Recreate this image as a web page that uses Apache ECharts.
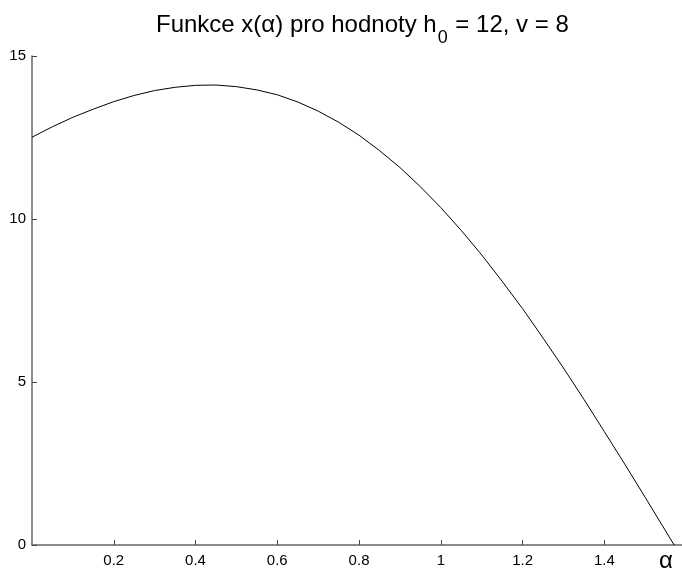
<!DOCTYPE html>
<html>
<head>
<meta charset="utf-8">
<script src="https://cdn.jsdelivr.net/npm/echarts@6/dist/echarts.min.js"></script>
<style>
  html, body { margin: 0; padding: 0; background: #fff; }
  #chart { width: 682px; height: 568px; }
</style>
</head>
<body>
<div id="chart"></div>
<script>
// Launch angle alpha (rad) and horizontal distance x(alpha) for h0 = 12, v = 8
const alpha = [0, 0.05, 0.1, 0.15, 0.2, 0.25, 0.3, 0.35, 0.4, 0.45, 0.5, 0.55, 0.6, 0.65,
  0.7, 0.75, 0.8, 0.85, 0.9, 0.95, 1.0, 1.05, 1.1, 1.15, 1.2, 1.25, 1.3, 1.35, 1.4,
  1.45, 1.5, 1.55, 1.5708];
const xDist = [12.51, 12.83, 13.12, 13.37, 13.60, 13.79, 13.94, 14.04, 14.10, 14.11,
  14.06, 13.96, 13.81, 13.59, 13.31, 12.97, 12.57, 12.10, 11.58, 10.99, 10.35, 9.65,
  8.90, 8.09, 7.25, 6.35, 5.43, 4.47, 3.48, 2.48, 1.46, 0.43, 0];
const yTicks = [0, 5, 10, 15];

const FONT = 'Liberation Sans, Arial, sans-serif';
const chart = echarts.init(document.getElementById('chart'));

chart.setOption({
  animation: false,
  backgroundColor: '#fff',
  title: {
    text: '{a|Funkce x(α) pro hodnoty h}{s|0}{a| = 12, v = 8}',
    left: 151,
    top: 8,
    textStyle: {
      fontWeight: 'normal',
      rich: {
        a: { fontSize: 24, fontWeight: 'normal', fontFamily: FONT, color: '#000', verticalAlign: 'top', lineHeight: 24 },
        s: { fontSize: 18, fontWeight: 'normal', fontFamily: FONT, color: '#000', verticalAlign: 'top', lineHeight: 18, padding: [16, 1, 0, 1] }
      }
    }
  },
  grid: { left: 32, right: 0, top: 56, bottom: 22, containLabel: false },
  xAxis: {
    type: 'value',
    min: 0,
    max: 1.59,
    interval: 0.2,
    splitLine: { show: false },
    axisLine: { lineStyle: { color: '#666', width: 1.5 } },
    axisTick: { inside: true, length: 5, lineStyle: { color: '#444' } },
    axisLabel: {
      showMinLabel: false,
      showMaxLabel: false,
      margin: 8,
      fontSize: 15,
      fontFamily: FONT,
      color: '#000'
    }
  },
  yAxis: {
    type: 'value',
    min: yTicks[0],
    max: yTicks[yTicks.length - 1],
    interval: 5,
    splitLine: { show: false },
    axisLine: { show: true, lineStyle: { color: '#666', width: 1.5 } },
    axisTick: { show: true, inside: true, length: 5, lineStyle: { color: '#444' } },
    axisLabel: { margin: 6, fontSize: 15, fontFamily: FONT, color: '#000' }
  },
  graphic: [{
    type: 'text',
    left: 659,
    top: 549,
    style: { text: 'α', fontSize: 24, fontFamily: FONT, fill: '#000' }
  }],
  series: [{
    type: 'line',
    data: alpha.map((a, i) => [a, xDist[i]]),
    showSymbol: false,
    lineStyle: { color: '#000', width: 1 },
    clip: false
  }]
});
</script>
</body>
</html>
